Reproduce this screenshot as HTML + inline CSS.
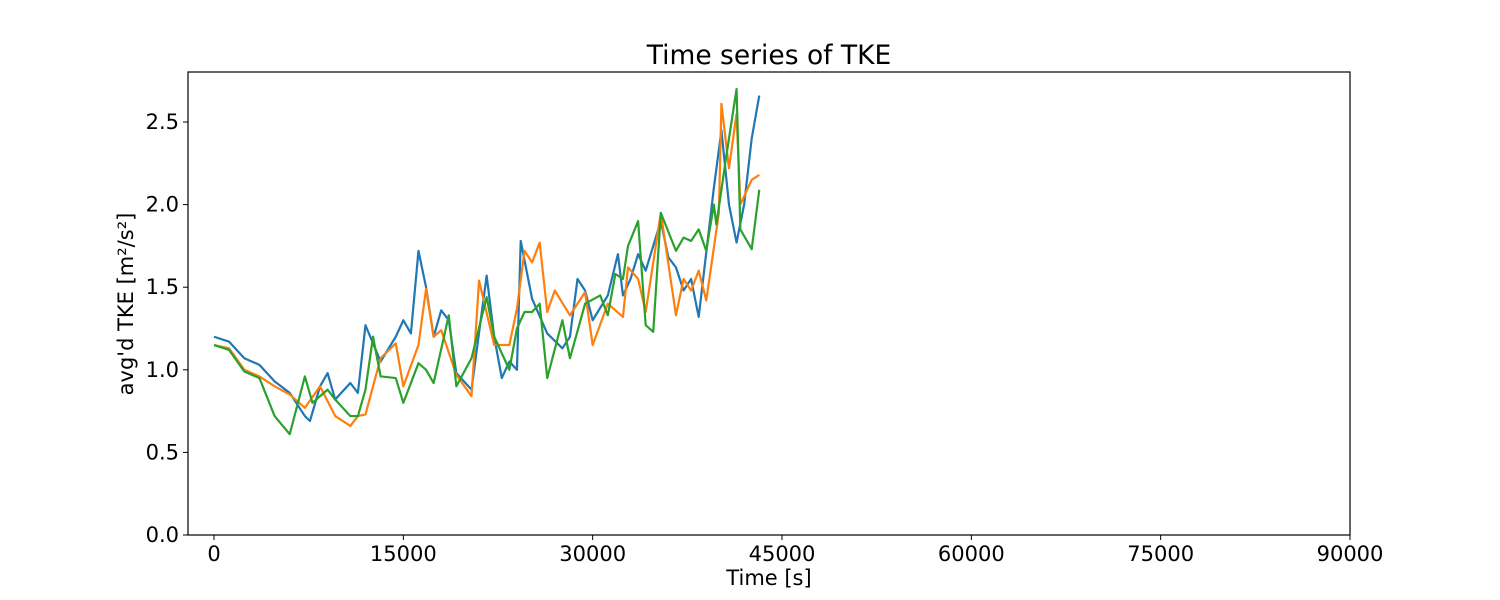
<!DOCTYPE html>
<html><head><meta charset="utf-8"><style>body{margin:0;background:#fff}svg{display:block;font-family:"DejaVu Sans","Liberation Sans",sans-serif}</style></head>
<body>
<svg id="chart" width="1500" height="600"></svg>
<script>
const blueT=[0,1200,2400,3600,4800,6000,7200,7600,8400,9000,9600,10800,11400,12000,13200,14400,15000,15600,16200,16800,17400,18000,18600,19200,20400,21600,22200,22800,23400,24000,24300,25200,26400,27600,28200,28800,29400,30000,31200,32000,32400,33000,33600,34200,35400,36000,36600,37200,37800,38400,39600,40200,40800,41400,42000,42600,43200];
const blueV=[1.20,1.17,1.07,1.03,0.93,0.86,0.72,0.69,0.90,0.98,0.82,0.92,0.86,1.27,1.05,1.20,1.30,1.22,1.72,1.50,1.20,1.36,1.30,0.98,0.88,1.57,1.20,0.95,1.05,1.00,1.78,1.43,1.22,1.13,1.20,1.55,1.48,1.30,1.45,1.70,1.45,1.55,1.70,1.60,1.90,1.68,1.62,1.48,1.55,1.32,2.10,2.45,2.00,1.77,2.00,2.40,2.66];
const orangeT=[0,1200,2400,3600,4800,6000,7200,8400,9600,10800,11400,12000,13200,14400,15000,16200,16800,17400,18000,19200,20400,21000,22200,23400,24000,24600,25200,25800,26400,27000,28200,29400,30000,31200,32400,32800,33600,34200,35400,36600,37200,37800,38400,39000,40000,40200,40800,41400,41700,42600,43200];
const orangeV=[1.15,1.13,1.00,0.96,0.90,0.85,0.77,0.90,0.72,0.66,0.72,0.73,1.07,1.16,0.90,1.15,1.49,1.20,1.24,0.97,0.84,1.54,1.15,1.15,1.37,1.72,1.65,1.77,1.35,1.48,1.33,1.47,1.15,1.40,1.32,1.62,1.55,1.35,1.95,1.33,1.55,1.48,1.60,1.42,1.95,2.61,2.22,2.55,2.00,2.15,2.18];
const greenT=[0,1200,2400,3600,4800,6000,7200,7800,9000,9600,10800,11400,12000,12600,13200,14400,15000,16200,16800,17400,18600,19200,20400,21600,22200,23400,24000,24600,25200,25800,26400,27600,28200,29400,30600,31200,31800,32400,32800,33600,34200,34800,35400,36600,37200,37800,38400,39000,39600,39800,40600,41400,41700,42600,43200];
const greenV=[1.15,1.12,0.99,0.95,0.72,0.61,0.96,0.80,0.88,0.82,0.72,0.72,0.88,1.20,0.96,0.95,0.80,1.04,1.00,0.92,1.33,0.90,1.07,1.44,1.20,1.00,1.25,1.35,1.35,1.40,0.95,1.30,1.07,1.40,1.45,1.33,1.58,1.55,1.75,1.90,1.27,1.23,1.95,1.72,1.80,1.78,1.85,1.72,2.00,1.88,2.30,2.70,1.85,1.73,2.09];
const xTicks=[0,15000,30000,45000,60000,75000,90000];
const yTicks=[0.0,0.5,1.0,1.5,2.0,2.5];
const L=188,R=1350,T=72,B=535;
const sx=t=>214+t*(1136/90000);
const sy=v=>B-v*(413/2.5);
const svg=document.getElementById('chart');
const NS='http://www.w3.org/2000/svg';
function mk(tag,attrs,txt){const e=document.createElementNS(NS,tag);for(const k in attrs)e.setAttribute(k,attrs[k]);if(txt!==undefined)e.textContent=txt;svg.appendChild(e);return e;}
const series=[[blueT,blueV,'#1f77b4','series-blue'],[orangeT,orangeV,'#ff7f0e','series-orange'],[greenT,greenV,'#2ca02c','series-green']];
series.forEach(s=>{
  const p=mk('polyline',{points:s[0].map((t,i)=>sx(t)+','+sy(s[1][i])).join(' '),fill:'none',stroke:s[2],'stroke-width':2.2,'stroke-linejoin':'round'});
  
  
});
const fr=mk('rect',{x:L,y:T,width:R-L,height:B-T,fill:'none',stroke:'#000','stroke-width':1.2});


xTicks.forEach(t=>{
  mk('line',{x1:sx(t),x2:sx(t),y1:B,y2:B+5,stroke:'#000'});
  const e=mk('text',{x:sx(t),y:B+26,'text-anchor':'middle','font-size':21},String(t));
  
  
});
yTicks.forEach(v=>{
  mk('line',{x1:L-5,x2:L,y1:sy(v),y2:sy(v),stroke:'#000'});
  const e=mk('text',{x:L-9,y:sy(v)+7,'text-anchor':'end','font-size':21},v.toFixed(1));
  
  
});
const tt=mk('text',{x:769,y:64,'text-anchor':'middle','font-size':26.5},'Time series of TKE');


const xl=mk('text',{x:769,y:585,'text-anchor':'middle','font-size':21},'Time [s]');


const yl=mk('text',{x:133,y:304,'text-anchor':'middle','font-size':21,transform:'rotate(-90 133 304)'},"avg'd TKE [m²/s²]");


</script>
</body></html>
